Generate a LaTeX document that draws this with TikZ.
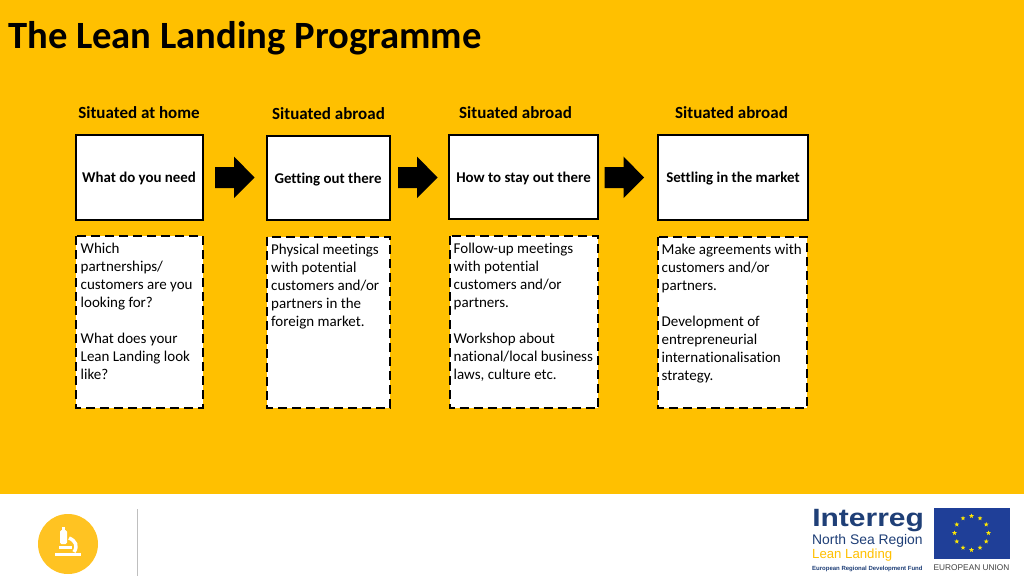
\documentclass[tikz,border=0pt]{standalone}
\usepackage{fontspec}
\setmainfont[Ligatures=NoCommon]{Carlito}
\newfontfamily\logofont{Liberation Sans}
\usetikzlibrary{shapes.geometric}
\definecolor{brand}{HTML}{FFC000}
\definecolor{iblue}{HTML}{1F3F77}
\definecolor{eublue}{HTML}{1F3F98}
\definecolor{iconyellow}{HTML}{FFC322}
\tikzset{
  x=1pt,y=-1pt,
  headbox/.style={draw=black,line width=2pt,fill=white,inner sep=0pt},
  notebox/.style={draw=black,line width=2pt,fill=white,inner sep=0pt,dash pattern=on 9pt off 5pt},
  heading/.style={anchor=base,font=\fontsize{17}{20}\selectfont\bfseries,text=black,inner sep=0pt},
  boxlabel/.style={anchor=base,font=\fontsize{14.9}{18}\selectfont\bfseries,text=black,inner sep=0pt},
  body/.style={anchor=north west,align=left,font=\fontsize{15}{18}\selectfont,text=black,inner sep=0pt},
  blockarrow/.style={fill=black,draw=none},
  euring/.style={fill=yellow!90!orange,draw=none},
}
\newcommand{\BlockArrow}[2]{\fill[blockarrow] (#1,#2-10.5) -- (#1+19,#2-10.5) -- (#1+19,#2-21) -- (#1+39.5,#2) -- (#1+19,#2+20.5) -- (#1+19,#2+10.5) -- (#1,#2+10.5) -- cycle;}
\begin{document}
\begin{tikzpicture}
\useasboundingbox (0,0) rectangle (1024,576);
\fill[white] (0,0) rectangle (1024,576);
\fill[brand] (0,0) rectangle (1024,494);
\node[anchor=base west,inner sep=0pt,font=\fontsize{38.6}{44}\selectfont\bfseries] (title) at (8,48) {The Lean Landing Programme};

\node[heading] (h1) at (139,118.5) {Situated at home};
\node[heading] (h2) at (328.5,119.5) {Situated abroad};
\node[heading] (h3) at (515.5,118.5) {Situated abroad};
\node[heading] (h4) at (731.5,118.5) {Situated abroad};

\draw[headbox] (76,135) rectangle (203,219.5);
\draw[headbox] (267,135.5) rectangle (390,220);
\draw[headbox] (449,134.5) rectangle (598,219);
\draw[headbox] (657.5,135) rectangle (808,220);
\node[boxlabel] (b1) at (139,182) {What do you need};
\node[boxlabel] (b2) at (328,183) {Getting out there};
\node[boxlabel] (b3) at (523.5,182) {How to stay out there};
\node[boxlabel] (b4) at (733,182.5) {Settling in the market};

\BlockArrow{215}{177.5}
\BlockArrow{398}{177.5}
\BlockArrow{604.5}{177.5}

\draw[notebox] (76,236) rectangle (203,408);
\draw[notebox] (267,237) rectangle (390,408);
\draw[notebox] (449.5,236) rectangle (598,408);
\draw[notebox] (658,237) rectangle (807,408);

\node[body] (n1) at (80.5,243) {Which\\partnerships/\\customers are you\\looking for?\\[18pt]What does your\\Lean Landing look\\like?};
\node[body] (n2) at (271,244) {Physical meetings\\with potential\\customers and/or\\partners in the\\foreign market.};
\node[body] (n3) at (453.5,243) {Follow-up meetings\\with potential\\customers and/or\\partners.\\[18pt]Workshop about\\national/local business\\laws, culture etc.};
\node[body] (n4) at (661.5,244) {Make agreements with\\customers and/or\\partners.\\[18pt]Development of\\entrepreneurial\\internationalisation\\strategy.};

% footer left: icon and rule
\fill[iconyellow] (68,544) circle (30);
\fill[white,rounded corners=1.5pt] (60,530) rectangle (67,544);
\fill[white] (62,527) rectangle (65,531);
\draw[white,line width=3.5pt] (69,538) .. controls (76,541) and (78,546) .. (74,552);
\fill[white] (59,546) rectangle (72,548.5);
\fill[white] (55,553) rectangle (81,556);
\draw[line width=0.7pt,black!25] (137.5,509) -- (137.5,576);

% footer right: Interreg and EU logos
\node[anchor=base west,inner sep=0pt,xscale=1.2,font=\logofont\fontsize{25}{27}\selectfont\bfseries,text=iblue] (interreg) at (812,526.5) {Interreg};
\node[anchor=base west,inner sep=0pt,font=\logofont\fontsize{13.9}{15}\selectfont,text=iblue] (nsr) at (812,544) {North Sea Region};
\node[anchor=base west,inner sep=0pt,font=\logofont\fontsize{13.2}{15}\selectfont,text=brand] (ll) at (812,558) {Lean Landing};
\node[anchor=base west,inner sep=0pt,font=\logofont\fontsize{6}{7}\selectfont\bfseries,text=iblue] (erdf) at (812,570) {European Regional Development Fund};
\fill[eublue] (933.5,507.5) rectangle (1009.5,558.5);
\foreach \a in {0,30,...,330}
  \node[euring,shape=star,star points=5,star point ratio=2.4,minimum size=5pt,inner sep=0pt] at ({971.5+17*cos(\a)},{533-17*sin(\a)}) {};
\node[anchor=base,inner sep=0pt,font=\logofont\fontsize{8.3}{10}\selectfont,text=black!75] (eu) at (971.5,570.5) {EUROPEAN UNION};
\end{tikzpicture}
\end{document}
